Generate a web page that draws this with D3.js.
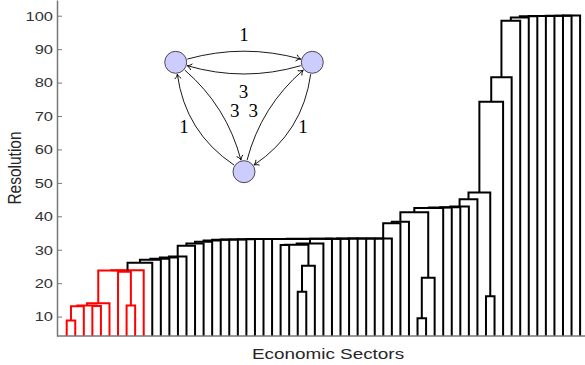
<!DOCTYPE html>
<html>
<head>
<meta charset="utf-8">
<script src="https://cdn.jsdelivr.net/npm/d3@7"></script>
<style>
body { margin: 0; background: #fff; }
svg { display: block; }
</style>
</head>
<body>
<svg id="chart" width="585" height="365"></svg>
<script>
// leaves are numbered 0..60 in the order they sit on the x axis
var leafCount = 61;
var redLeaves = [0, 1, 2, 3, 4, 5, 6, 7, 8, 9];

// linkage: merge k creates node 61+k from mergeLeft[k] and mergeRight[k] at mergeHeight[k]
var mergeLeft  = [0, 61, 3, 62, 64, 7, 6, 65, 68, 69, 70, 71, 72, 73, 74, 75, 76, 77, 78, 79, 80, 81, 82, 83,
                  27, 85, 25, 87, 88, 84, 90, 91, 92, 93, 94, 95, 96, 97, 98, 99, 41, 101, 100, 103, 104, 105, 106, 107,
                  49, 108, 110, 111, 112, 113, 114, 115, 116, 117, 118, 119];
var mergeRight = [1, 2, 4, 63, 5, 8, 66, 67, 9, 10, 11, 12, 13, 14, 15, 16, 17, 18, 19, 20, 21, 22, 23, 24,
                  28, 29, 26, 86, 30, 89, 31, 32, 33, 34, 35, 36, 37, 38, 39, 40, 42, 43, 102, 44, 45, 46, 47, 48,
                  50, 109, 51, 52, 53, 54, 55, 56, 57, 58, 59, 60];
var mergeHeight = [8.8, 13.1, 13.2, 13.3, 14.0, 13.3, 23.4, 23.8, 23.9, 26.1, 27.0, 27.3, 27.7, 28.0, 31.2, 31.9,
                   32.4, 32.8, 33.0, 33.05, 33.1, 33.15, 33.2, 33.2,
                   17.4, 25.2, 31.4, 31.5, 31.9, 33.25, 33.3, 33.3, 33.3, 33.35, 33.35, 33.4, 33.4, 33.4,
                   37.9, 38.4, 9.5, 21.6, 41.2, 42.5, 42.6, 42.7, 42.9, 45.1,
                   16.1, 47.1, 74.3, 81.6, 98.5, 99.5, 99.85, 99.9, 99.95, 100.0, 100.0, 100.05];
var yTicks = [10, 20, 30, 40, 50, 60, 70, 80, 90, 100];

// inset network
var netNodes = ["a", "b", "c"];
var edgeFrom   = ["a", "b", "a", "c", "c", "b"];
var edgeTo     = ["b", "a", "c", "a", "b", "c"];
var edgeWeight = [1, 3, 3, 1, 3, 1];

var svg = d3.select("#chart");
var sans = "Liberation Sans, Arial, sans-serif";

var x = d3.scaleLinear().domain([0, leafCount - 1]).range([66.7, 580.1]);
var y = d3.scaleLinear().domain([4.2, 104.7]).range([336, 0]).clamp(true);

// node positions and heights
var nodeX = [], nodeH = [], nodeRed = [];
for (var i = 0; i < leafCount; i++) {
    nodeX[i] = x(i);
    nodeH[i] = 0;
    nodeRed[i] = redLeaves.indexOf(i) >= 0;
}
for (var k = 0; k < mergeLeft.length; k++) {
    var a = mergeLeft[k], b = mergeRight[k], id = leafCount + k;
    nodeX[id] = (nodeX[a] + nodeX[b]) / 2;
    nodeH[id] = mergeHeight[k];
    nodeRed[id] = nodeRed[a] && nodeRed[b];
}

var links = mergeLeft.map(function(a, k) {
    var b = mergeRight[k], id = leafCount + k;
    return {
        d: "M" + nodeX[a] + "," + y(nodeH[a]) + "V" + y(nodeH[id]) +
           "H" + nodeX[b] + "V" + y(nodeH[b]),
        red: nodeRed[id]
    };
});

svg.append("g")
    .selectAll("path")
    .data(links)
    .enter()
    .append("path")
    .attr("d", function(d) { return d.d; })
    .attr("fill", "none")
    .attr("stroke", function(d) { return d.red ? "#ff0000" : "#000"; })
    .attr("stroke-width", 2);

// axes (the source picture is stretched sideways, so text gets scale(1.22,1))
var yAxis = svg.append("g")
    .attr("transform", "translate(57,0)")
    .call(d3.axisLeft(y).tickValues(yTicks).tickSizeInner(-5).tickSizeOuter(0));
yAxis.select(".domain").attr("stroke", "#777").attr("stroke-width", 1.5);
yAxis.selectAll(".tick line").attr("stroke", "#777");
yAxis.selectAll(".tick text")
    .attr("x", -3.3)
    .attr("transform", "scale(1.22,1)")
    .attr("fill", "#333")
    .style("font-family", sans)
    .style("font-size", "13.5px");

svg.append("line")
    .attr("x1", 57).attr("x2", 585)
    .attr("y1", 336).attr("y2", 336)
    .attr("stroke", "#777").attr("stroke-width", 1.5);

svg.append("text")
    .attr("transform", "translate(328,359) scale(1.22,1)")
    .attr("text-anchor", "middle")
    .style("font-family", sans)
    .style("font-size", "15.5px")
    .attr("fill", "#262626")
    .text("Economic Sectors");

svg.append("text")
    .attr("transform", "translate(21,168) scale(1.22,1) rotate(-90)")
    .attr("text-anchor", "middle")
    .style("font-family", sans)
    .style("font-size", "15.5px")
    .attr("fill", "#262626")
    .text("Resolution");

// inset graph
var pos = { a: [175.7, 62.3], b: [312.3, 62.3], c: [244, 171.7] };
var bends = [19, 20, 20, 29, 20, 29];
var labelDx = [0, -0.5, 15, -11.5, -15, 10.5];
var labelDy = [-17, 18, 0, 0.5, 0, 0.5];
var r = 11;

svg.append("defs").append("marker")
    .attr("id", "arr")
    .attr("markerUnits", "userSpaceOnUse")
    .attr("markerWidth", 12).attr("markerHeight", 12)
    .attr("viewBox", "-6 -6 12 12")
    .attr("refX", 0).attr("refY", 0)
    .attr("orient", "auto")
    .append("path")
    .attr("d", "M-4.5,-3.2 C-3,-1.2 -1,-0.3 0,0 C-1,0.3 -3,1.2 -4.5,3.2")
    .attr("fill", "none")
    .attr("stroke", "#000")
    .attr("stroke-width", 0.9);

var net = svg.append("g");

edgeFrom.forEach(function(f, i) {
    var p = pos[f], q = pos[edgeTo[i]];
    var dx = q[0] - p[0], dy = q[1] - p[1], len = Math.sqrt(dx * dx + dy * dy);
    var nx = dy / len, ny = -dx / len;
    var mx = (p[0] + q[0]) / 2, my = (p[1] + q[1]) / 2;
    var cx = mx + nx * bends[i], cy = my + ny * bends[i];
    function trim(pt) {
        var ux = cx - pt[0], uy = cy - pt[1], l = Math.sqrt(ux * ux + uy * uy);
        return [pt[0] + ux / l * (r + 1), pt[1] + uy / l * (r + 1)];
    }
    var s = trim(p), e = trim(q);
    net.append("path")
        .attr("d", "M" + s[0] + "," + s[1] + "Q" + cx + "," + cy + " " + e[0] + "," + e[1])
        .attr("fill", "none")
        .attr("stroke", "#000")
        .attr("stroke-width", 0.9)
        .attr("marker-end", "url(#arr)");
    // label sits next to the middle of the curve
    var midX = (s[0] + 2 * cx + e[0]) / 4, midY = (s[1] + 2 * cy + e[1]) / 4;
    net.append("text")
        .attr("x", midX + labelDx[i]).attr("y", midY + labelDy[i])
        .attr("text-anchor", "middle")
        .attr("dominant-baseline", "central")
        .style("font-family", "Liberation Serif, Times New Roman, serif")
        .style("font-size", "19px")
        .text(edgeWeight[i]);
});

net.selectAll("circle")
    .data(netNodes)
    .enter()
    .append("circle")
    .attr("cx", function(d) { return pos[d][0]; })
    .attr("cy", function(d) { return pos[d][1]; })
    .attr("r", r)
    .attr("fill", "#ccccff")
    .attr("stroke", "#222")
    .attr("stroke-width", 0.8);
</script>
</body>
</html>
